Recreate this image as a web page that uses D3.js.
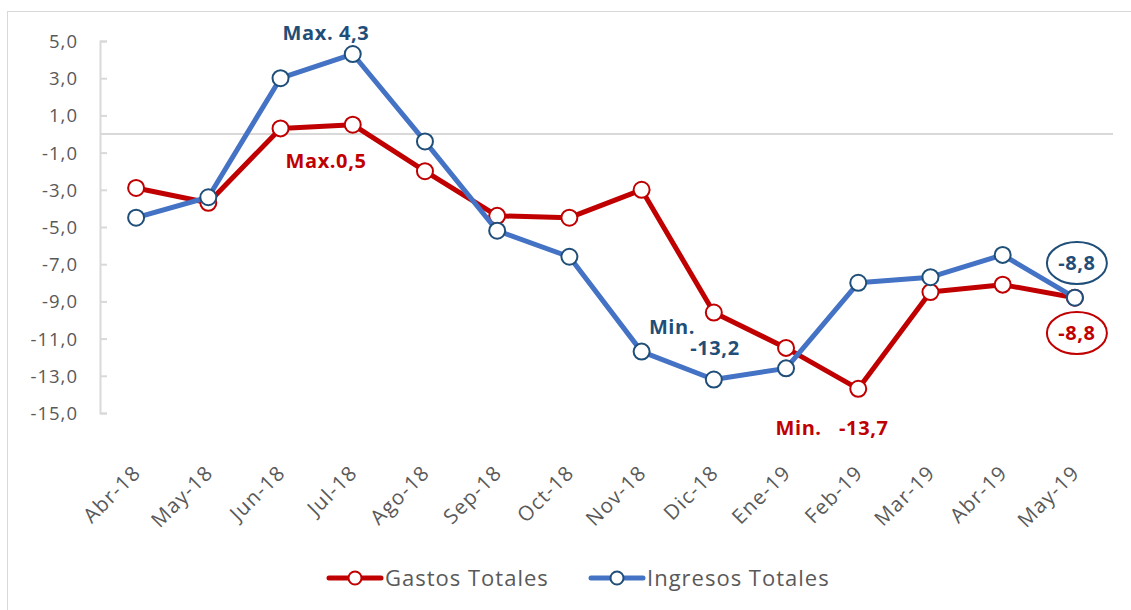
<!DOCTYPE html>
<html><head><meta charset="utf-8">
<script src="https://cdn.jsdelivr.net/npm/d3@7"></script>
<style>body{margin:0;background:#fff;} text{font-family:"Open Sans",Lato,sans-serif;}</style>
</head><body><svg id="c" width="1131" height="610"></svg>
<script>
const categories = ["Abr-18","May-18","Jun-18","Jul-18","Ago-18","Sep-18","Oct-18","Nov-18","Dic-18","Ene-19","Feb-19","Mar-19","Abr-19","May-19"];
const gastos = [-2.9,-3.7,0.3,0.5,-2.0,-4.4,-4.5,-3.0,-9.6,-11.5,-13.7,-8.5,-8.1,-8.8];
const ingresos = [-4.5,-3.4,3.0,4.3,-0.4,-5.2,-6.6,-11.7,-13.2,-12.6,-8.0,-7.7,-6.5,-8.8];
const yTicks = [5,3,1,-1,-3,-5,-7,-9,-11,-13,-15];
const seriesNames = ["Gastos Totales","Ingresos Totales"];

const svg = d3.select("#c");
const red = "#C00000", blue = "#4472C4", dblue = "#1F4E79", grey = "#595959";

svg.append("rect").attr("x",7.5).attr("y",11.5).attr("width",1140).attr("height",620)
  .attr("fill","none").attr("stroke","#d9d9d9");

const x = d3.scaleBand().domain(categories).range([100,1111]);
const y = d3.scaleLinear().domain([-15,5]).range([413,41]);
const cx = d => x(d) + x.bandwidth()/2;

// y axis
const yAxis = svg.append("g").attr("transform","translate(100,0)")
  .call(d3.axisRight(y).tickValues(yTicks).tickSize(7).tickFormat(d => d3.format(".1f")(d).replace(".",",").replace("−","-")));
yAxis.select(".domain").attr("stroke","#d9d9d9").attr("stroke-width",2);
yAxis.selectAll(".tick line").attr("stroke","#d9d9d9").attr("stroke-width",2);
yAxis.selectAll(".tick text").attr("x",-22).attr("text-anchor","end").attr("fill",grey)
  .attr("font-size",18.5).attr("letter-spacing",1).attr("dy","0.35em");

// zero line
svg.append("line").attr("x1",100).attr("x2",1113).attr("y1",y(0)).attr("y2",y(0))
  .attr("stroke","#d9d9d9").attr("stroke-width",2);

// x labels
svg.append("g").selectAll("text").data(categories).join("text")
  .attr("transform", d => `translate(${cx(d)+6},${474}) rotate(-45)`)
  .attr("text-anchor","end").attr("fill",grey).attr("font-size",20.5).attr("letter-spacing",1.2).text(d => d);

const line = d3.line().x((d,i) => cx(categories[i])).y(d => y(d));
function drawSeries(vals, lc, mc){
  svg.append("path").datum(vals).attr("d",line).attr("fill","none")
    .attr("stroke",lc).attr("stroke-width",5).attr("stroke-linejoin","round");
  svg.append("g").selectAll("circle").data(vals).join("circle")
    .attr("cx",(d,i)=>cx(categories[i])).attr("cy",d=>y(d)).attr("r",8)
    .attr("fill","#fff").attr("stroke",mc).attr("stroke-width",2);
}
drawSeries(gastos, red, red);
drawSeries(ingresos, blue, dblue);

// annotations
function lab(t,xx,yy,c,anchor){
  svg.append("text").attr("x",xx).attr("y",yy).attr("fill",c).attr("font-weight","bold")
    .attr("font-size",20).attr("letter-spacing",0.6).attr("text-anchor",anchor||"middle").attr("xml:space","preserve").text(t);
}
lab("Max. 4,3", 326, 40, dblue);
lab("Max.0,5", 326, 168, red);
lab("Min.", 672, 334, dblue);
lab("-13,2", 715, 355, dblue);
lab("Min.   -13,7", 832, 435, red);
svg.append("ellipse").attr("cx",cx("May-19")+2).attr("cy",263).attr("rx",30).attr("ry",21)
  .attr("fill","#fff").attr("stroke",dblue).attr("stroke-width",2);
lab("-8,8", cx("May-19")+2, 270, dblue);
svg.append("ellipse").attr("cx",cx("May-19")+2).attr("cy",333).attr("rx",30).attr("ry",21)
  .attr("fill","#fff").attr("stroke",red).attr("stroke-width",2);
lab("-8,8", cx("May-19")+2, 340, red);

// legend
const leg = [{n:seriesNames[0],lc:red,mc:red,x:327},{n:seriesNames[1],lc:blue,mc:dblue,x:589}];
leg.forEach(l=>{
  svg.append("line").attr("x1",l.x+2).attr("x2",l.x+54).attr("y1",578).attr("y2",578)
    .attr("stroke",l.lc).attr("stroke-width",5).attr("stroke-linecap","round");
  svg.append("circle").attr("cx",l.x+28).attr("cy",578).attr("r",6.5).attr("fill","#fff")
    .attr("stroke",l.mc).attr("stroke-width",2);
  svg.append("text").attr("x",l.x+58).attr("y",586).attr("fill",grey).attr("font-size",22)
    .attr("letter-spacing",1).text(l.n);
});
</script></body></html>
